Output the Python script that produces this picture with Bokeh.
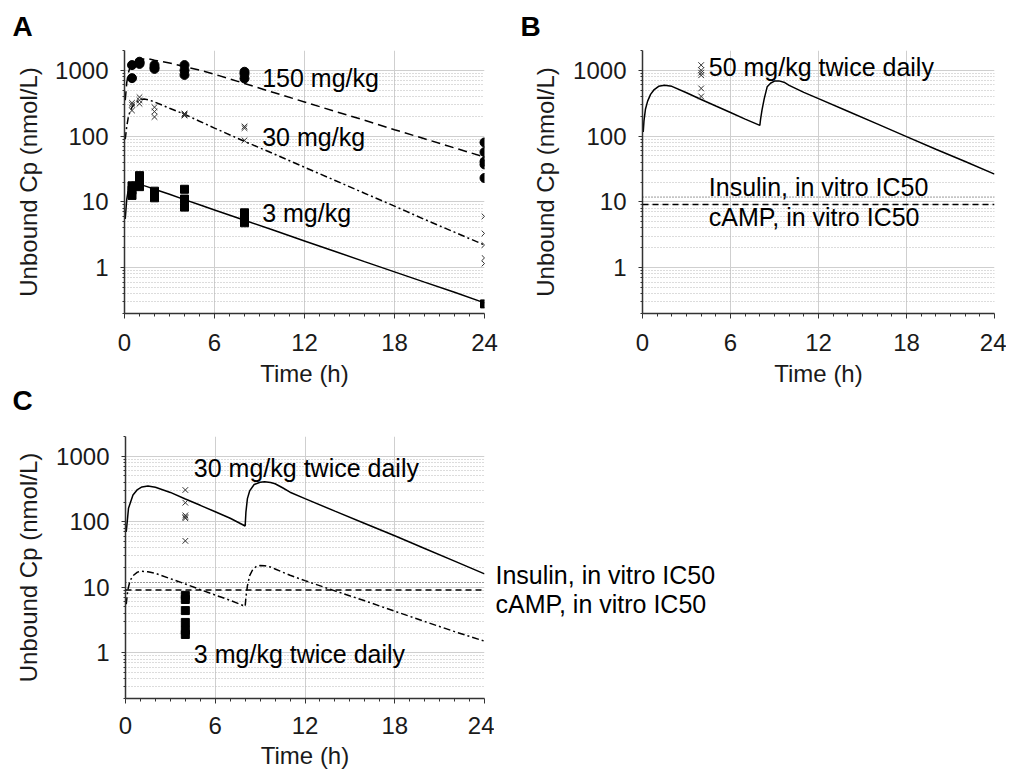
from bokeh.plotting import figure
from bokeh.models import FixedTicker, Span, Label, Range1d, PrintfTickFormatter, Title
from bokeh.layouts import column, row
from bokeh.embed import file_html
from bokeh.resources import INLINE

FONT = "Liberation Sans"

# ---------------- data ----------------
x_ticks = [0, 6, 12, 18, 24]
y_ticks = [1, 10, 100, 1000]
y_tick_labels = ["1", "10", "100", "1000"]

ic50_insulin = 11.8
ic50_camp = 9.1

# Panel A: single doses
a150_t = [0.5, 0.5, 1, 1, 1, 2, 2, 2, 4, 4, 4, 8, 8, 8, 24, 24, 24, 24, 24]
a150_c = [1200, 760, 1350, 1300, 1250, 1200, 1100, 1050, 1200, 1000, 850, 950, 880, 750, 80, 57, 41, 37, 23]
a30_t = [0.5, 0.5, 0.5, 1, 1, 1, 2, 2, 2, 4, 4, 4, 8, 8, 8, 24, 24, 24, 24, 24]
a30_c = [320, 300, 245, 390, 350, 310, 275, 235, 195, 220, 212, 205, 140, 132, 86, 6.0, 3.3, 2.2, 1.4, 1.15]
a3_t = [0.5, 0.5, 0.5, 1, 1, 1, 2, 2, 2, 4, 4, 4, 8, 8, 8, 8, 24]
a3_c = [17.5, 15, 12.5, 25, 21, 17, 14.5, 13, 11.5, 15.5, 11, 8.3, 6.8, 6.0, 5.3, 4.8, 0.28]

a_curve_t = [0.05, 0.15, 0.25, 0.35, 0.5, 0.7, 1.0, 1.3, 1.6, 2, 3, 4, 5, 6, 8, 10, 12, 14, 16, 18, 20, 22, 24]
a150_curve = [350, 650, 900, 1080, 1250, 1370, 1450, 1490, 1500, 1420, 1290, 1140, 1010, 870, 630, 455, 330, 238, 174, 125, 91, 66, 48]
a30_curve = [90, 140, 190, 230, 275, 320, 355, 365, 355, 330, 265, 215, 168, 132, 83, 53, 33.5, 21.3, 13.5, 8.6, 5.4, 3.45, 2.2]
a3_curve = [5.5, 11, 15, 18, 19.8, 19.7, 18.6, 17.6, 16.7, 15.5, 13.0, 10.8, 9.0, 7.5, 5.24, 3.65, 2.54, 1.77, 1.23, 0.86, 0.60, 0.42, 0.29]

# Panel B: 50 mg/kg twice daily
b_obs_t = [4, 4, 4, 4, 4, 4]
b_obs_c = [1200, 1000, 920, 840, 530, 400]
b_curve_t = [0.05, 0.1, 0.2, 0.35, 0.55, 0.8, 1.1, 1.5, 2, 3, 4, 5, 6, 7, 8,
             8.05, 8.15, 8.3, 8.5, 8.75, 9.0, 9.3, 9.7, 10, 11, 12, 14, 16, 18, 20, 22, 24]
b_curve_c = [115, 170, 255, 340, 430, 510, 570, 590, 570, 455, 360, 286, 228, 181, 145,
             180, 250, 370, 560, 640, 685, 690, 650, 590, 462, 370, 238, 153, 98, 63, 41, 26.3]

# Panel C: 30 and 3 mg/kg twice daily
c30_obs_t = [4, 4, 4, 4, 4, 4]
c30_obs_c = [305, 195, 125, 118, 113, 51]
c3_obs_t = [4, 4, 4, 4, 4, 4]
c3_obs_c = [7.5, 6.5, 4.4, 2.9, 2.2, 1.9]
c30_curve_t = [0.05, 0.2, 0.5, 0.8, 1.1, 1.5, 2, 3, 4, 5, 6, 7, 8,
               8.05, 8.15, 8.3, 8.6, 9.0, 9.3, 9.7, 10, 10.5, 11, 12, 14, 16, 18, 20, 22, 24]
c30_curve_c = [70, 160, 255, 310, 340, 350, 335, 280, 222, 178, 142, 113, 86,
               140, 225, 295, 370, 400, 408, 398, 380, 330, 282, 225, 145, 94, 61, 39, 25, 16]
c3_curve_t = [0.05, 0.15, 0.3, 0.5, 0.8, 1.1, 1.5, 2, 3, 4, 5, 6, 7, 8,
              8.05, 8.15, 8.3, 8.5, 8.75, 9.0, 9.3, 9.7, 10, 11, 12, 14, 16, 18, 20, 22, 24]
c3_curve_c = [5.5, 9, 12.5, 15, 17, 17.5, 17.2, 16.3, 13.5, 11.2, 9.2, 7.6, 6.3, 5.1,
              7, 10.5, 15, 18.5, 20.8, 21.5, 21.3, 20.3, 19, 15.2, 12.6, 8.8, 6.2, 4.3, 3.0, 2.1, 1.5]

y_minor = [m * d for d in (0.1, 1, 10, 100) for m in range(2, 10)] + [2000]
x_minor = [h for h in range(25) if h % 6]

TICK_PX = "24px"
LABEL_PX = "24px"
ANNOT_PX = "25px"
LETTER_PX = "28px"


def panel(width, height, bl, br, bt, bb, y_label_standoff, x_tick_standoff, x_label_standoff):
    p = figure(width=width, height=height, x_range=Range1d(0, 24), y_range=Range1d(0.2, 2000),
               y_axis_type="log", output_backend="svg", toolbar_location=None,
               min_border_left=bl, min_border_right=br, min_border_top=bt, min_border_bottom=bb)
    p.outline_line_color = None
    p.background_fill_color = "white"
    p.border_fill_color = "white"

    p.xaxis.ticker = FixedTicker(ticks=x_ticks, minor_ticks=x_minor)
    p.yaxis.ticker = FixedTicker(ticks=y_ticks, minor_ticks=y_minor)
    p.yaxis.formatter = PrintfTickFormatter(format="%d")
    p.yaxis.major_label_overrides = {t: s for t, s in zip(y_ticks, y_tick_labels)}

    for ax in (p.xaxis[0], p.yaxis[0]):
        ax.axis_line_color = "#333333"
        ax.axis_line_width = 1.5
        ax.major_tick_line_color = "#333333"
        ax.minor_tick_line_color = "#333333"
        ax.major_tick_in = 0
        ax.minor_tick_in = 0
        ax.major_label_text_font = FONT
        ax.major_label_text_font_size = TICK_PX
        ax.major_label_text_color = "#1a1a1a"
        ax.axis_label_text_font = FONT
        ax.axis_label_text_font_size = LABEL_PX
        ax.axis_label_text_font_style = "normal"
        ax.axis_label_text_color = "#1a1a1a"
    p.xaxis.major_tick_out = 5
    p.xaxis.minor_tick_out = 3
    p.yaxis.major_tick_out = 4
    p.yaxis.minor_tick_out = 2
    p.yaxis.major_label_standoff = 12
    p.yaxis.axis_label_standoff = y_label_standoff
    p.xaxis.major_label_standoff = x_tick_standoff
    p.xaxis.axis_label_standoff = x_label_standoff
    p.xaxis.axis_label = "Time (h)"
    p.yaxis.axis_label = "Unbound Cp (nmol/L)"

    p.xgrid.grid_line_color = "#cfcfcf"
    p.xgrid.minor_grid_line_color = None
    p.ygrid.grid_line_color = "#cfcfcf"
    p.ygrid.minor_grid_line_color = "#b8b8b8"
    p.ygrid.minor_grid_line_dash = "1 2"
    return p


def letter(text, offset, standoff):
    return Title(text=text, align="left", offset=offset, standoff=standoff,
                 text_font=FONT, text_font_size=LETTER_PX, text_font_style="bold",
                 text_color="black")


def add_label(p, x, y, text):
    p.add_layout(Label(x=x, y=y, text=text, text_font=FONT, text_font_size=ANNOT_PX,
                       text_color="black", text_align="left", text_baseline="alphabetic"))


def add_ic50(p):
    p.add_layout(Span(location=ic50_insulin, dimension="width", line_color="#333333",
                      line_dash="1 2", line_width=1))
    p.add_layout(Span(location=ic50_camp, dimension="width", line_color="black",
                      line_dash="6 4", line_width=1.5))


ROW1_H = 430

# ---------------- panel A ----------------
pA = panel(508, ROW1_H, 124, 24, 49, ROW1_H - 49 - 264, 10, 15, 6)
pA.add_layout(letter("A", -112, 17), "above")
pA.add_layout(letter("C", -112, -13), "below")
pA.line(a_curve_t, a150_curve, color="black", line_width=1.5, line_dash="9 5")
pA.line(a_curve_t, a30_curve, color="black", line_width=1.5, line_dash="7 3 2 3")
pA.line(a_curve_t, a3_curve, color="black", line_width=1.5)
pA.scatter(a150_t, a150_c, marker="circle", size=9, color="black")
pA.scatter(a30_t, a30_c, marker="x", size=8, line_color="#333333", line_width=1)
pA.scatter(a3_t, a3_c, marker="square", size=8, color="black")
add_label(pA, 9.18, 771, "150 mg/kg")
add_label(pA, 9.18, 97.2, "30 mg/kg")
add_label(pA, 9.18, 6.77, "3 mg/kg")

# ---------------- panel B ----------------
pB = panel(498, ROW1_H, 134, 12, 49, ROW1_H - 49 - 264, 11, 15, 6)
pB.add_layout(letter("B", -122, 17), "above")
add_ic50(pB)
pB.line(b_curve_t, b_curve_c, color="black", line_width=1.5)
pB.scatter(b_obs_t, b_obs_c, marker="x", size=8, line_color="#333333", line_width=1)
add_label(pB, 4.52, 1130, "50 mg/kg twice daily")
add_label(pB, 4.52, 16.95, "Insulin, in vitro IC50")
add_label(pB, 4.52, 5.82, "cAMP, in vitro IC50")

# ---------------- panel C ----------------
C_H = 771 - ROW1_H
C_TOP = 436 - ROW1_H
C_FRAME = 262
C_BOT = C_H - C_TOP - C_FRAME
pC = panel(494, C_H, 125, 10, C_TOP, C_BOT, 11, 13, 5)
add_ic50(pC)
pC.line(c30_curve_t, c30_curve_c, color="black", line_width=1.5)
pC.line(c3_curve_t, c3_curve_c, color="black", line_width=1.5, line_dash="7 3 2 3")
pC.scatter(c30_obs_t, c30_obs_c, marker="x", size=8, line_color="#333333", line_width=1)
pC.scatter(c3_obs_t, c3_obs_c, marker="square", size=8, color="black")
add_label(pC, 4.57, 667, "30 mg/kg twice daily")
add_label(pC, 4.57, 0.956, "3 mg/kg twice daily")

# companion area to the right of C holding the IC50 texts (same vertical scale)
pCt = figure(width=250, height=C_H, x_range=Range1d(0, 250), y_range=Range1d(0.2, 2000),
             y_axis_type="log", output_backend="svg", toolbar_location=None,
             min_border_left=0, min_border_right=0, min_border_top=C_TOP,
             min_border_bottom=C_BOT)
pCt.axis.visible = False
pCt.grid.visible = False
pCt.outline_line_color = None
add_label(pCt, 1, 15.6, "Insulin, in vitro IC50")
add_label(pCt, 1, 5.46, "cAMP, in vitro IC50")

layout = column(row(pA, pB), row(pC, pCt))
open("out.html", "w").write(file_html(layout, INLINE))
